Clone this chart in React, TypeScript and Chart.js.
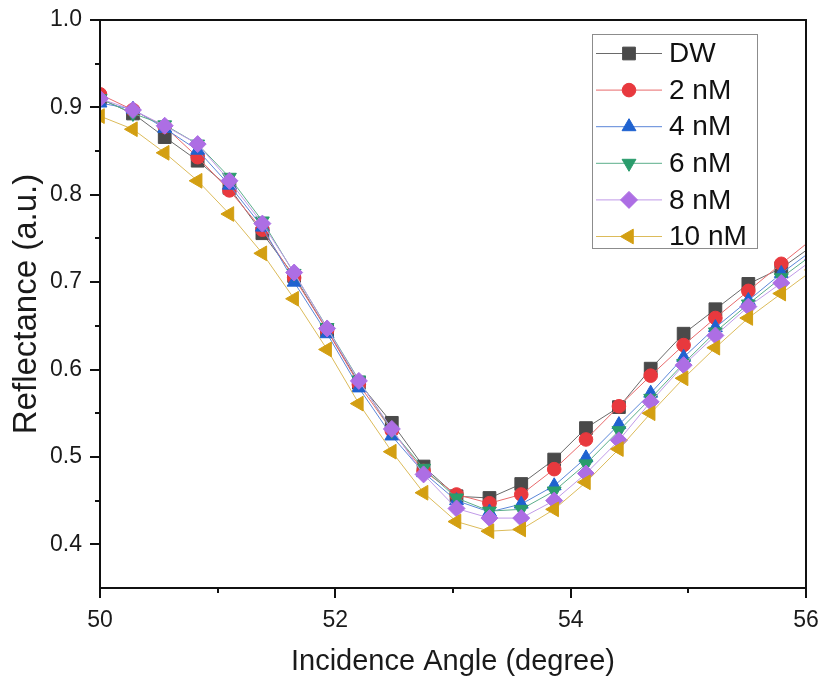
import React, { useEffect, useRef } from 'react';
import { Chart, registerables } from 'chart.js';
import * as helpers from 'chart.js/helpers';

Chart.register(...registerables);

// ---------- data ----------
const angles = [50.0, 50.28, 50.55, 50.83, 51.1, 51.38, 51.65, 51.93, 52.2, 52.48, 52.75, 53.03, 53.31, 53.58, 53.86, 54.13, 54.41, 54.68, 54.96, 55.23, 55.51, 55.79, 56.06];

const seriesLabels = ['DW', '2 nM', '4 nM', '6 nM', '8 nM', '10 nM'];

const dwValues = [0.91, 0.893, 0.866, 0.839, 0.808, 0.756, 0.707, 0.645, 0.585, 0.539, 0.489, 0.455, 0.453, 0.469, 0.497, 0.533, 0.557, 0.601, 0.641, 0.669, 0.698, 0.716, 0.742];
const nm2Values = [0.915, 0.897, 0.878, 0.843, 0.805, 0.76, 0.705, 0.645, 0.583, 0.53, 0.484, 0.457, 0.447, 0.457, 0.486, 0.52, 0.558, 0.593, 0.628, 0.659, 0.69, 0.721, 0.75];
const nm4Values = [0.905, 0.898, 0.876, 0.851, 0.811, 0.763, 0.7, 0.641, 0.579, 0.524, 0.482, 0.45, 0.437, 0.446, 0.467, 0.499, 0.537, 0.573, 0.614, 0.648, 0.679, 0.71, 0.737];
const nm6Values = [0.91, 0.893, 0.88, 0.858, 0.82, 0.77, 0.71, 0.648, 0.588, 0.53, 0.487, 0.453, 0.438, 0.44, 0.461, 0.492, 0.53, 0.567, 0.607, 0.643, 0.675, 0.705, 0.732];
const nm8Values = [0.91, 0.897, 0.879, 0.858, 0.816, 0.767, 0.711, 0.647, 0.587, 0.532, 0.48, 0.441, 0.43, 0.43, 0.45, 0.481, 0.519, 0.563, 0.605, 0.639, 0.672, 0.699, 0.726];
const nm10Values = [0.89, 0.875, 0.848, 0.816, 0.778, 0.733, 0.681, 0.623, 0.561, 0.506, 0.459, 0.426, 0.415, 0.417, 0.44, 0.471, 0.509, 0.55, 0.59, 0.625, 0.659, 0.687, 0.714];

const allSeries = [dwValues, nm2Values, nm4Values, nm6Values, nm8Values, nm10Values];

const yMajorTicks = [0.4, 0.5, 0.6, 0.7, 0.8, 0.9, 1.0];
const yMinorTicks = [0.45, 0.55, 0.65, 0.75, 0.85, 0.95];
const xMajorTicks = [50, 52, 54, 56];
const xMinorTicks = [51, 53, 55];

// ---------- styles ----------
const markerColors = ['#4a4a4a', '#e8393e', '#1f62d0', '#2a9c6c', '#ad6ee4', '#d39f12'];
const lineColors = ['#6a6a6a', '#e86a6c', '#5a86d8', '#5bae8a', '#c09ae8', '#dcbb5a'];
const pointStyles = ['rect', 'circle', 'triangle', 'triangle', 'rectRot', 'triangle'];
const pointRotations = [0, 0, 0, 180, 0, -90];
const pointRadii = [9, 6.8, 8, 8, 8.5, 8.5];

const FONT = "'Liberation Sans', Arial, sans-serif";

const framePlugin = {
  id: 'frameTicks',
  afterDraw(chart: any) {
    const { ctx, chartArea } = chart;
    const xs = chart.scales.x;
    const ys = chart.scales.y;
    const { left, right, top, bottom } = chartArea;
    ctx.save();
    ctx.strokeStyle = '#111';
    ctx.lineWidth = 2;
    ctx.beginPath();
    ctx.moveTo(left, top);
    ctx.lineTo(right, top);
    ctx.lineTo(right, bottom);
    ctx.lineTo(left, bottom);
    ctx.closePath();
    ctx.stroke();
    ctx.beginPath();
    yMajorTicks.forEach((v) => {
      const p = Math.round(ys.getPixelForValue(v));
      ctx.moveTo(left - 10, p);
      ctx.lineTo(left, p);
    });
    yMinorTicks.forEach((v) => {
      const p = Math.round(ys.getPixelForValue(v));
      ctx.moveTo(left - 5, p);
      ctx.lineTo(left, p);
    });
    xMajorTicks.forEach((v) => {
      const p = Math.round(xs.getPixelForValue(v));
      ctx.moveTo(p, bottom);
      ctx.lineTo(p, bottom + 10);
    });
    xMinorTicks.forEach((v) => {
      const p = Math.round(xs.getPixelForValue(v));
      ctx.moveTo(p, bottom);
      ctx.lineTo(p, bottom + 5);
    });
    ctx.stroke();
    ctx.restore();
  },
};

const legendPlugin = {
  id: 'insideLegend',
  afterDraw(chart: any) {
    const { ctx } = chart;
    const bx = 592;
    const by = 34;
    const bw = 165;
    const bh = 214;
    ctx.save();
    ctx.fillStyle = '#ffffff';
    ctx.fillRect(bx, by, bw, bh);
    ctx.strokeStyle = '#8c8c8c';
    ctx.lineWidth = 1;
    ctx.strokeRect(bx + 0.5, by + 0.5, bw, bh);
    chart.data.datasets.forEach((ds: any, i: number) => {
      const y = by + 19.5 + i * 36.6;
      ctx.strokeStyle = ds.borderColor;
      ctx.lineWidth = 1;
      ctx.beginPath();
      ctx.moveTo(bx + 4, y);
      ctx.lineTo(bx + 70, y);
      ctx.stroke();
      ctx.fillStyle = ds.pointBackgroundColor;
      ctx.strokeStyle = ds.pointBorderColor;
      helpers.drawPoint(ctx, {
        pointStyle: ds.pointStyle,
        rotation: ds.pointRotation,
        radius: ds.pointRadius,
        borderWidth: 1,
      } as any, bx + 37, y);
      ctx.fillStyle = '#111';
      ctx.font = `28px ${FONT}`;
      ctx.textAlign = 'left';
      ctx.textBaseline = 'middle';
      ctx.fillText(ds.label, bx + 77, y + 1);
    });
    ctx.restore();
  },
};

const zeroPad = (s: any) => {
  s.paddingLeft = 0;
  s.paddingRight = 0;
  s.paddingTop = 0;
  s.paddingBottom = 0;
};

export default function App() {
  const canvasRef = useRef<HTMLCanvasElement | null>(null);

  useEffect(() => {
    document.body.style.margin = '0';
    const canvas = canvasRef.current;
    if (!canvas) return;
    const datasets = allSeries.map((vals, i) => ({
      label: seriesLabels[i],
      data: vals.map((v, k) => ({ x: angles[k], y: v })),
      borderColor: lineColors[i],
      borderWidth: 1,
      backgroundColor: markerColors[i],
      pointBackgroundColor: markerColors[i],
      pointBorderColor: markerColors[i],
      pointBorderWidth: 1,
      pointStyle: pointStyles[i],
      pointRotation: pointRotations[i],
      pointRadius: pointRadii[i],
      tension: 0,
      clip: 0,
      order: allSeries.length - i,
    }));

    const chart = new Chart(canvas, {
      type: 'line',
      data: { datasets },
      options: {
        animation: false,
        responsive: false,
        maintainAspectRatio: false,
        devicePixelRatio: 1,
        layout: { padding: { top: 20, right: 16, left: 0, bottom: 0 } },
        plugins: {
          legend: { display: false },
          tooltip: { enabled: false },
        },
        scales: {
          x: {
            type: 'linear',
            min: 50,
            max: 56,
            grid: { display: false, drawTicks: false },
            border: { display: false },
            afterBuildTicks: (s: any) => {
              s.ticks = xMajorTicks.map((v) => ({ value: v }));
            },
            afterFit: (s: any) => {
              s.height = 94;
              zeroPad(s);
            },
            ticks: {
              autoSkip: false,
              maxRotation: 0,
              padding: 19,
              color: '#1a1a1a',
              font: { family: FONT, size: 23 },
              callback: (v: any) => String(v),
            },
            title: {
              display: true,
              text: 'Incidence Angle (degree)',
              color: '#1a1a1a',
              font: { family: FONT, size: 29 },
              padding: { top: 0, bottom: 3 },
            },
          },
          y: {
            type: 'linear',
            min: 0.35,
            max: 1.0,
            grid: { display: false, drawTicks: false },
            border: { display: false },
            afterBuildTicks: (s: any) => {
              s.ticks = yMajorTicks.map((v) => ({ value: v }));
            },
            afterFit: (s: any) => {
              s.width = 100;
              zeroPad(s);
            },
            ticks: {
              autoSkip: false,
              padding: 18,
              color: '#1a1a1a',
              font: { family: FONT, size: 23 },
              callback: (v: any) => Number(v).toFixed(1),
            },
            title: {
              display: true,
              text: 'Reflectance (a.u.)',
              color: '#1a1a1a',
              font: { family: FONT, size: 33 },
              padding: { top: 7, bottom: 0 },
            },
          },
        },
      },
      plugins: [framePlugin, legendPlugin],
    });

    return () => {
      chart.destroy();
    };
  }, []);

  return (
    <div style={{ width: 822, height: 682, background: '#fff' }}>
      <canvas ref={canvasRef} width={822} height={682} style={{ display: 'block', width: 822, height: 682 }} />
    </div>
  );
}
